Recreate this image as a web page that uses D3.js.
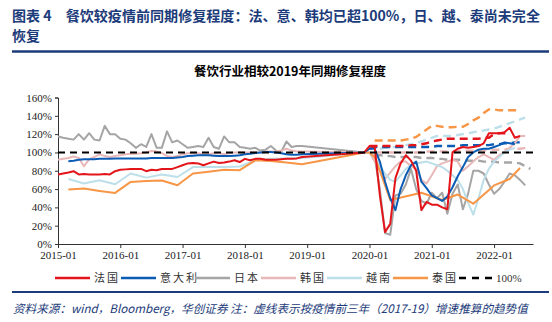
<!DOCTYPE html>
<html><head><meta charset="utf-8">
<script src="https://cdn.jsdelivr.net/npm/d3@7"></script>
<style>body{margin:0;background:#fff}svg{display:block}</style>
</head><body><svg id="c" width="552" height="322"></svg>
<script>
// ---- data ----
const headerLine1 = "图表 4　餐饮较疫情前同期修复程度：法、意、韩均已超100%，日、越、泰尚未完全";
const headerLine2 = "恢复";
const chartTitle = "餐饮行业相较2019年同期修复程度";
const sourceText = "资料来源：wind，Bloomberg，华创证券  注：虚线表示按疫情前三年（2017-19）增速推算的趋势值";
const xTickLabels = ["2015-01","2016-01","2017-01","2018-01","2019-01","2020-01","2021-01","2022-01"];
const yTickValues = [0,20,40,60,80,100,120,140,160];
const seriesNames = ["法国","意大利","日本","韩国","越南","泰国"];
const refName = "100%";
// month index 0 = 2015-01 ; history covers 2015-01..2018-12, recent covers 2019-12..2022-08
const franceHist = [76,77,78,79.5,76,76.5,76,76,76,76.5,76,79.5, 81,81.5,82,82,82,79.5,81,80.5,82,82,82,84, 86,88,88.5,88,86,88,90,88.5,89,90,91.5,89.5, 93,91.5,93,93,92,92,92,92.5,93,93,93.5,95];
const italyHist = [null,null,90.5,91,92,92.5,92.5,92.5,93,93,93,93.5, 93.5,93.5,93.5,93.5,93.5,93.5,94,94,94,94,94,94.5, 95,96,96.5,97,97,97,96.5,96,96,96,96.5,97, 98,98.5,99.5,100,100.5,100.5,100,99,98,97.5,97.5,98];
const japanHist = [117.5,116,115,114,120,114,121,114,113,129,120,120, 115,114,110,105,109,106,120,105,105,123,111,113, 109,105,106,107,106,116,106,104,117.5,111,111,106, 105,104,105,102,103,107,102,100.5,112,106,107,107];
const koreaHist = [92,93,94,95.5,94,85,92.5,95,98,96,95,96, 97,98,98.5,98.7,99,100,101.6,101,99.4,96,95,96, 98,99,99,99,98,98,99,99,98,99,100,100, 100,100,100,100,101,101,101,102,104,102,101,101];
const vietnamHist = [null,null,71,null,null,66,null,null,69.7,null,null,65.3, null,null,77,null,null,72.5,null,null,75.8,null,null,73.2, null,null,84,null,null,84,null,null,84,null,null,84.6, null,null,91.4,null,null,93,null,null,93.5,null,null,94];
const thailandHist = [null,null,59.5,null,null,60.5,null,null,58,null,null,55.8, null,null,67.8,null,null,68.7,null,null,69.3,null,null,64.2, null,null,77,null,null,79,null,null,81,null,null,80.6, null,null,91.4,null,null,90.7,null,null,89,null,null,87];
// recent: 2019-12 .. 2022-08 (33 months)
const franceRecent = [100,107,106,53,13,22,72,88,97,91,80,37, 46,43,43,40,38,100,104,106,105,106,107,110, 121,121,121,122,127,116,118,null,null];
const italyRecent = [100,104,104,90,68,50,37,60,75,86,90,68, 61,53,50,47,52,62,74,84,95,100,103,104, 104,106,108,111,110,109,null,null,null];
const japanRecent = [100,100,95,60,12,10,53,55,65,82,60,47, 44,56,50,56,33,55,65,38,55,80,80,77, 65,55,60,68,77,75,70,64,null];
const koreaRecent = [100,100,90,80,71,78,85,90,90,85,82,70, 66,75,85,88,90,92,90,80,85,90,95,98, 95,92,97,100,105,110,118,118,null];
const vietnamRecent = [100,100,95,85,77,70,68,75,82,86,88,89, 90,88,86,84,80,75,70,60,45,32,50,70, 82,90,95,100,103,105,null,null,null];
const thailandRecent = [100,100,95,80,64,48,null,null,null,null,null,56, null,null,null,48,null,null,54,null,null,44,null,null,null,64,null,null,71,null,83,null,null];
// trend (dashed): 2020-01 .. 2022-08
const franceTrend = [107,107,107,107,107,107,107,107,108,108,109,110, 112,113,114,115,115,115,115,115,115,115,116,116, 120,121,121,121,null,null,null,null];
const italyTrend = [104,106,106,106,106,106,106,106,106,106,106,106, 106,107,107,107,107,107,108,108,108,108,108,108, 109,109,110,110,111,111,null,null];
const japanTrend = [null,97,97,96,96,95,95,95,95,95,94,94, 94,93,93,92,92,92,92,91,91,91,90,90, 90,89,89,89,89,88,85,82];
const koreaTrend = [null,100,100,100,100,100,100,100,100,100,100,101, 101,101,101,101,101,101,102,102,102,102,102,103, 103,103,103,104,104,104,105,105];
const vietnamTrend = [null,null,104,105,105,106,107,108,109,110,112,114, 116,118,118,118,118,119,120,121,122,123,124,125, 126,128,130,132,134,136,138,null];
const thailandTrend = [null,113,113,113,113,113,113,114,115,117,121,125, 129,129,128,127.5,127.5,128,128,131,135,138,143,147, 147,146,146,146,146,145,null,null];

const colors = ["#e3151b","#0b5cb5","#a5a5a5","#e8b8b8","#bcdfe9","#f79646"];
const headerColor = "#1c3b7a";

// ---- build ----
const svg = d3.select("#c");
const margin = {left:58, right:533, top:97.5, bottom:244};
const x = d3.scaleLinear().domain([0, 91.5]).range([margin.left, margin.right]);
const y = d3.scaleLinear().domain([0, 160]).range([margin.bottom, margin.top]);

svg.append("text").attr("x",12).attr("y",21).attr("fill",headerColor)
  .attr("font-family","Noto Sans CJK SC").attr("font-weight","bold").attr("font-size",14)
  .attr("textLength",528).attr("lengthAdjust","spacingAndGlyphs").text(headerLine1);
svg.append("text").attr("x",12).attr("y",41).attr("fill",headerColor)
  .attr("font-family","Noto Sans CJK SC").attr("font-weight","bold").attr("font-size",14).text(headerLine2);
svg.append("line").attr("x1",12).attr("x2",549).attr("y1",51.5).attr("y2",51.5).attr("stroke",headerColor).attr("stroke-width",2.5);

svg.append("text").attr("x",290).attr("y",76).attr("text-anchor","middle").attr("fill","#000")
  .attr("font-family","Noto Sans CJK SC").attr("font-weight","bold").attr("font-size",12.5).text(chartTitle);

// axes
const yAxis = d3.axisLeft(y).tickValues(yTickValues).tickFormat(d=>d+"%").tickSize(3).tickPadding(3);
const gy = svg.append("g").attr("transform",`translate(${margin.left},0)`).call(yAxis);
gy.selectAll("text").attr("font-family","Liberation Serif").attr("font-size",11).attr("fill","#222");
gy.select(".domain").attr("stroke","#333");
gy.selectAll(".tick line").attr("stroke","#333");

const xTickPos = xTickLabels.map((d,i)=>i*12);
const xAxis = d3.axisBottom(x).tickValues(xTickPos).tickFormat((d,i)=>xTickLabels[i]).tickSize(4).tickSizeOuter(0).tickPadding(3);
const gx = svg.append("g").attr("transform",`translate(0,${margin.bottom})`).call(xAxis);
gx.selectAll("text").attr("font-family","Liberation Serif").attr("font-size",11).attr("fill","#222");
gx.select(".domain").attr("stroke","#333");
gx.selectAll(".tick line").attr("stroke","#333");

function pts(hist, recent){
  const out=[];
  hist.forEach((v,i)=>{ if(v!=null) out.push([i,v]); });
  recent.forEach((v,i)=>{ if(v!=null) out.push([59+i,v]); });
  return out;
}
function tpts(trend){
  const out=[];
  trend.forEach((v,i)=>{ if(v!=null) out.push([60+i,v]); });
  return out;
}
const line = d3.line().x(d=>x(d[0])).y(d=>y(d[1]));
const hists = [franceHist,italyHist,japanHist,koreaHist,vietnamHist,thailandHist];
const recents = [franceRecent,italyRecent,japanRecent,koreaRecent,vietnamRecent,thailandRecent];
const trends = [franceTrend,italyTrend,japanTrend,koreaTrend,vietnamTrend,thailandTrend];

const plot = svg.append("g");
[2,3,4,5,1,0].forEach(i=>{
  plot.append("path").attr("d",line(tpts(trends[i]))).attr("fill","none")
    .attr("stroke",colors[i]).attr("stroke-width",2.4).attr("stroke-dasharray","8,5");
});
[2,3,4,5,1,0].forEach(i=>{
  plot.append("path").attr("d",line(pts(hists[i],recents[i]))).attr("fill","none")
    .attr("stroke",colors[i]).attr("stroke-width",2).attr("stroke-linejoin","round");
});
plot.append("line").attr("x1",x(0)).attr("x2",x(91.5)).attr("y1",y(100)).attr("y2",y(100))
  .attr("stroke","#000").attr("stroke-width",2).attr("stroke-dasharray","7,5");

// legend
const lg = svg.append("g").attr("font-family","Noto Sans CJK SC").attr("font-size",11).attr("fill","#333");
const legendX = [55,121,195,261,327,393];
seriesNames.forEach((n,i)=>{
  lg.append("line").attr("x1",legendX[i]).attr("x2",legendX[i]+35).attr("y1",278).attr("y2",278)
    .attr("stroke",colors[i]).attr("stroke-width",2.5);
  lg.append("text").attr("x",legendX[i]+39).attr("y",282).attr("letter-spacing",2).text(n);
});
lg.append("line").attr("x1",459).attr("x2",493).attr("y1",278).attr("y2",278)
  .attr("stroke","#000").attr("stroke-width",2.5).attr("stroke-dasharray","7,6");
lg.append("text").attr("x",496).attr("y",282).attr("font-family","Liberation Serif").text(refName);

svg.append("line").attr("x1",12).attr("x2",549).attr("y1",292).attr("y2",292).attr("stroke",headerColor).attr("stroke-width",2);
svg.append("text").attr("x",13).attr("y",313).attr("fill",headerColor).attr("font-style","italic")
  .attr("font-family","Noto Sans CJK SC").attr("font-size",11.6).text(sourceText);
</script></body></html>
